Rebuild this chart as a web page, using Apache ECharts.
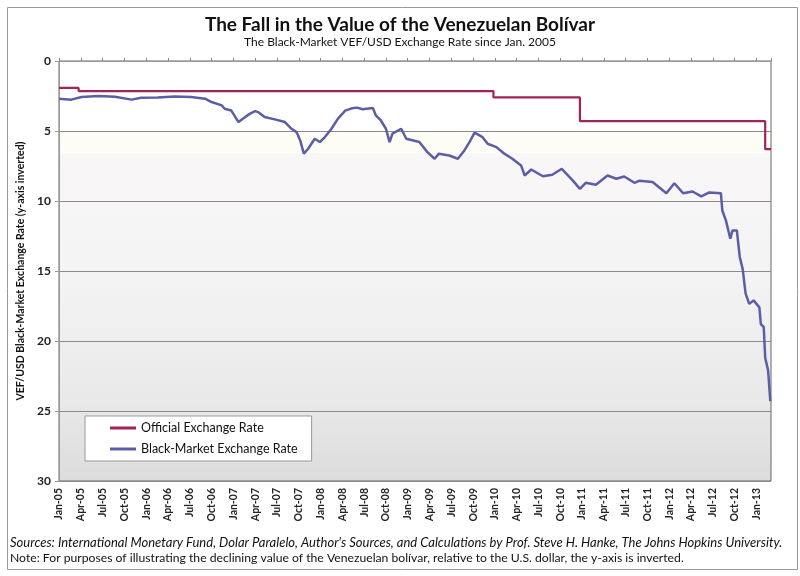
<!DOCTYPE html>
<html>
<head>
<meta charset="utf-8">
<script src="https://cdn.jsdelivr.net/npm/echarts@6/dist/echarts.min.js"></script>
<style>
  html, body { margin: 0; padding: 0; background: #fff; }
  #main { width: 800px; height: 576px; }
</style>
</head>
<body>
<div id="main"></div>
<script>
// x values are months since Jan 2005
const tickLabels = ['Jan-05', 'Apr-05', 'Jul-05', 'Oct-05', 'Jan-06', 'Apr-06', 'Jul-06', 'Oct-06',
    'Jan-07', 'Apr-07', 'Jul-07', 'Oct-07', 'Jan-08', 'Apr-08', 'Jul-08', 'Oct-08',
    'Jan-09', 'Apr-09', 'Jul-09', 'Oct-09', 'Jan-10', 'Apr-10', 'Jul-10', 'Oct-10',
    'Jan-11', 'Apr-11', 'Jul-11', 'Oct-11', 'Jan-12', 'Apr-12', 'Jul-12', 'Oct-12', 'Jan-13'];

const officialMonths = [0, 2.7, 59.8, 71.7, 97.2, 98];
const officialRates = [1.92, 2.15, 2.6, 4.3, 6.3, 6.3];

const blackMonths = [0, 1.7, 3.1, 5.4, 7.7, 10.0, 11.3, 13.6, 15.9, 18.2, 20.1, 21.0, 22.4, 22.8, 23.7,
    24.7, 25.3, 26.3, 27.0, 27.4, 28.3, 29.7, 31.1, 32.0, 32.7, 33.2, 33.7, 34.3, 35.2, 35.9,
    36.6, 37.5, 38.4, 39.4, 40.3, 41.0, 41.8, 43.2, 43.6, 44.3, 45.0, 45.5, 45.9, 47.1, 47.8,
    49.6, 50.7, 51.7, 52.3, 53.7, 54.9, 55.8, 56.5, 57.2, 58.3, 59.0, 60.2, 61.3, 62.4, 63.6,
    64.1, 65.0, 66.6, 67.9, 69.2, 70.7, 71.7, 72.5, 73.9, 75.5, 76.7, 77.8, 79.2, 79.9, 81.7,
    83.6, 84.7, 85.9, 87.2, 88.4, 89.5, 91.1, 91.3, 91.8, 92.4, 92.7, 93.3, 93.7, 94.1, 94.5,
    95.0, 95.6, 96.4, 96.6, 97.0, 97.2, 97.6, 97.7, 97.9];
const blackRates = [2.69, 2.76, 2.57, 2.50, 2.55, 2.76, 2.62, 2.60, 2.53, 2.57, 2.69, 2.93, 3.17, 3.41, 3.53,
    4.36, 4.12, 3.76, 3.58, 3.65, 4.00, 4.17, 4.36, 4.84, 5.08, 5.67, 6.62, 6.27, 5.55, 5.79,
    5.43, 4.84, 4.12, 3.55, 3.38, 3.33, 3.45, 3.36, 3.88, 4.24, 4.84, 5.79, 5.19, 4.84, 5.55,
    5.79, 6.51, 6.98, 6.62, 6.75, 6.98, 6.39, 5.79, 5.12, 5.44, 5.91, 6.15, 6.62, 6.98, 7.46,
    8.18, 7.75, 8.23, 8.13, 7.70, 8.53, 9.13, 8.70, 8.84, 8.18, 8.41, 8.25, 8.70, 8.55, 8.65,
    9.44, 8.73, 9.45, 9.32, 9.67, 9.39, 9.44, 10.68, 11.4, 12.7, 12.1, 12.1, 14.0, 14.85, 16.6,
    17.35, 17.1, 17.6, 18.8, 19.0, 21.2, 22.1, 22.8, 24.3];

function pairs(xs, ys) {
    return xs.map(function (x, i) { return [x, ys[i]]; });
}

var dom = document.getElementById('main');
var myChart = echarts.init(dom, null, { renderer: 'canvas' });
var font = 'Lato, "Noto Sans", sans-serif';

var option = {
    animation: false,
    backgroundColor: '#fff',
    title: {
        text: 'The Fall in the Value of the Venezuelan Bolívar',
        subtext: 'The Black-Market VEF/USD Exchange Rate since Jan. 2005',
        left: 'center',
        top: 10,
        itemGap: 2,
        textStyle: { fontFamily: font, fontSize: 19, fontWeight: 'bold', color: '#111' },
        subtextStyle: { fontFamily: font, fontSize: 12, color: '#111' }
    },
    legend: {
        left: 85,
        top: 416,
        orient: 'vertical',
        icon: 'rect',
        itemWidth: 26,
        itemHeight: 3,
        itemGap: 7,
        padding: [5, 14, 5, 25],
        backgroundColor: '#fff',
        borderColor: '#999',
        borderWidth: 1,
        textStyle: { fontFamily: font, fontSize: 12.5, color: '#111', lineHeight: 14 },
        data: ['Official Exchange Rate', 'Black-Market Exchange Rate']
    },
    grid: {
        left: 59,
        right: 29,
        top: 61,
        bottom: 95,
        show: true,
        borderColor: '#666',
        borderWidth: 1,
        backgroundColor: {
            type: 'linear', x: 0, y: 0, x2: 0, y2: 1,
            colorStops: [
                { offset: 0, color: '#ffffff' },
                { offset: 0.166, color: '#ffffff' },
                { offset: 0.167, color: '#fdfdf6' },
                { offset: 0.22, color: '#fdfdf6' },
                { offset: 0.221, color: '#f9f6f7' },
                { offset: 0.5, color: '#f4f4f4' },
                { offset: 0.8, color: '#e9e9e9' },
                { offset: 1, color: '#dcdcdc' }
            ]
        }
    },
    xAxis: {
        type: 'value',
        min: 0,
        max: 98,
        interval: 3,
        axisLine: { show: true, lineStyle: { color: '#999' } },
        axisTick: { show: true, inside: true, length: 3, lineStyle: { color: '#888' } },
        splitLine: { show: false },
        axisLabel: {
            rotate: 90,
            margin: 7,
            fontFamily: font,
            fontSize: 10.5,
            fontWeight: 'bold',
            color: '#222',
            formatter: function (v) {
                var label = tickLabels[v / 3];
                return label === undefined ? '' : label;
            }
        }
    },
    yAxis: {
        type: 'value',
        inverse: true,
        min: 0,
        max: 30,
        interval: 5,
        name: 'VEF/USD Black-Market Exchange Rate (y-axis inverted)',
        nameLocation: 'middle',
        nameGap: 32,
        nameRotate: 90,
        nameTextStyle: { fontFamily: font, fontSize: 10.5, fontWeight: 'bold', color: '#111' },
        axisLine: { show: true, lineStyle: { color: '#999' } },
        axisTick: { show: true, length: 4, lineStyle: { color: '#999' } },
        splitLine: { show: true, lineStyle: { color: '#8a8a8a', width: 1 } },
        axisLabel: { fontFamily: font, fontSize: 12, fontWeight: 'bold', color: '#222', margin: 8 }
    },
    series: [
        {
            name: 'Official Exchange Rate',
            type: 'line',
            step: 'end',
            symbol: 'none',
            color: '#a3225a',
            lineStyle: { width: 2.2, color: '#a3225a' },
            data: pairs(officialMonths, officialRates),
            z: 3
        },
        {
            name: 'Black-Market Exchange Rate',
            type: 'line',
            symbol: 'none',
            color: '#5b5ea6',
            lineStyle: { width: 2.5, color: '#5b5ea6' },
            data: pairs(blackMonths, blackRates),
            z: 4
        }
    ],
    graphic: [
        {
            type: 'rect',
            left: 5, top: 5,
            shape: { width: 790, height: 562 },
            style: { fill: 'none', stroke: '#999', lineWidth: 1 },
            silent: true
        },
        {
            type: 'text',
            left: 10, top: 536,
            style: {
                text: "Sources: International Monetary Fund, Dolar Paralelo, Author's Sources, and Calculations by Prof. Steve H. Hanke, The Johns Hopkins University.",
                font: 'italic 13px ' + font,
                fill: '#111'
            }
        },
        {
            type: 'text',
            left: 10, top: 552,
            style: {
                text: 'Note: For purposes of illustrating the declining value of the Venezuelan bolívar, relative to the U.S. dollar, the y-axis is inverted.',
                font: '12.2px ' + font,
                fill: '#111'
            }
        }
    ]
};

if (option && typeof option === 'object') {
    myChart.setOption(option);
}

window.addEventListener('resize', myChart.resize);
</script>
</body>
</html>
